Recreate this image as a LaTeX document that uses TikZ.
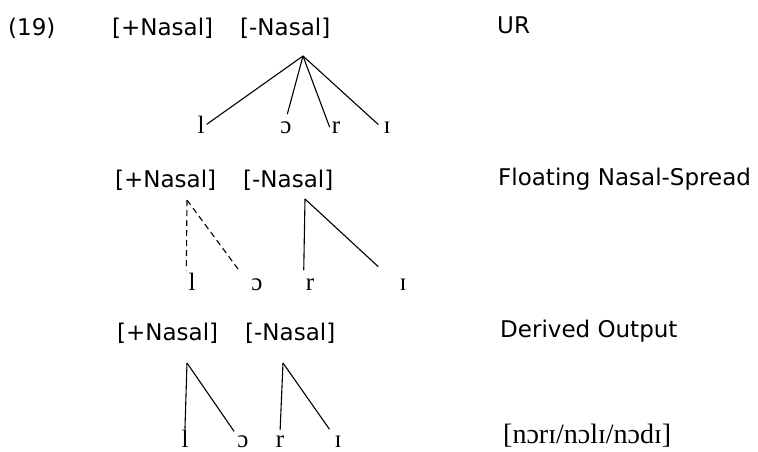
\documentclass[tikz,border=0pt]{standalone}
\usepackage{fontspec}
\setmainfont{DejaVu Sans}
\newfontfamily\ipafont{Liberation Serif}
\usetikzlibrary{positioning}

\begin{document}
\begin{tikzpicture}[x=1pt, y=-1pt,
            % ----- Styles -----
                txt/.style={anchor=base west, inner sep=0pt,
                    font=\fontsize{23}{27}\selectfont},
                seg/.style={anchor=base, inner sep=2pt,
                    font=\ipafont\fontsize{25}{29}\selectfont},
                link/.style={line width=1.1pt},
                spread/.style={link, dash pattern=on 6pt off 4pt}
            ]
                \useasboundingbox (0,0) rectangle (758,451);

% ===================== Zeile 1: UR =============================
                \node[txt] (ex)  at (8,   35) {(19)};
                \node[txt] (pl1) at (112, 35) {[+Nasal]};
                \node[txt] (mi1) at (240, 35) {[-Nasal]};
                \node[txt] (ur)  at (497, 33) {UR};
                \coordinate (k1) at (303, 56);

                \node[seg] (l1) at (201, 133) {l};
                \node[seg] (o1) at (286, 133) {ɔ};
                \node[seg] (r1) at (336, 133) {r};
                \node[seg] (i1) at (387, 133) {ɪ};

                \draw[link] (k1) -- (l1.east);
                \draw[link, shorten >=5pt] (k1) -- (o1.north);
                \draw[link] (k1) -- (r1.west);
                \draw[link, shorten >=4pt] (k1) -- (i1.west);

% ===================== Zeile 2: Floating Nasal-Spread ==========
                \node[txt] (pl2) at (115, 187) {[+Nasal]};
                \node[txt] (mi2) at (243, 187) {[-Nasal]};
                \node[txt] (fl)  at (498, 185) {Floating Nasal-Spread};
                \coordinate (k2p) at (187, 200);
                \coordinate (k2m) at (305, 199);

                \node[seg] (l2) at (192, 290) {l};
                \node[seg] (o2) at (257, 290) {ɔ};
                \node[seg] (r2) at (310, 290) {r};
                \node[seg] (i2) at (403, 290) {ɪ};

                \draw[spread] (k2p) -- (l2.north west);
                \draw[spread, shorten >=16pt] (k2p) -- (o2.west);
                \draw[link, shorten >=6pt] (k2m) -- (r2.north west);
                \draw[link, shorten >=26pt] (k2m) -- (i2.west);

% ===================== Zeile 3: Derived Output =================
                \node[txt] (pl3) at (117, 340) {[+Nasal]};
                \node[txt] (mi3) at (245, 340) {[-Nasal]};
                \node[txt] (out) at (500, 337) {Derived Output};
                \node[txt, font=\ipafont\fontsize{28}{32}\selectfont]
                (res) at (503, 443) {[nɔrɪ/nɔlɪ/nɔdɪ]};
                \coordinate (k3p) at (187, 363);
                \coordinate (k3m) at (283, 363);

                \node[seg] (l3) at (185, 447) {l};
                \node[seg] (o3) at (243, 447) {ɔ};
                \node[seg] (r3) at (280, 447) {r};
                \node[seg] (i3) at (338, 447) {ɪ};

                \draw[link, shorten >=-2pt] (k3p) -- (l3.north);
                \draw[link, shorten >=2pt] (k3p) -- (o3.north west);
                \draw[link, shorten >=3pt] (k3m) -- (r3.north);
                \draw[link, shorten >=5pt] (k3m) -- (i3.north west);

            \end{tikzpicture}
\end{document}
